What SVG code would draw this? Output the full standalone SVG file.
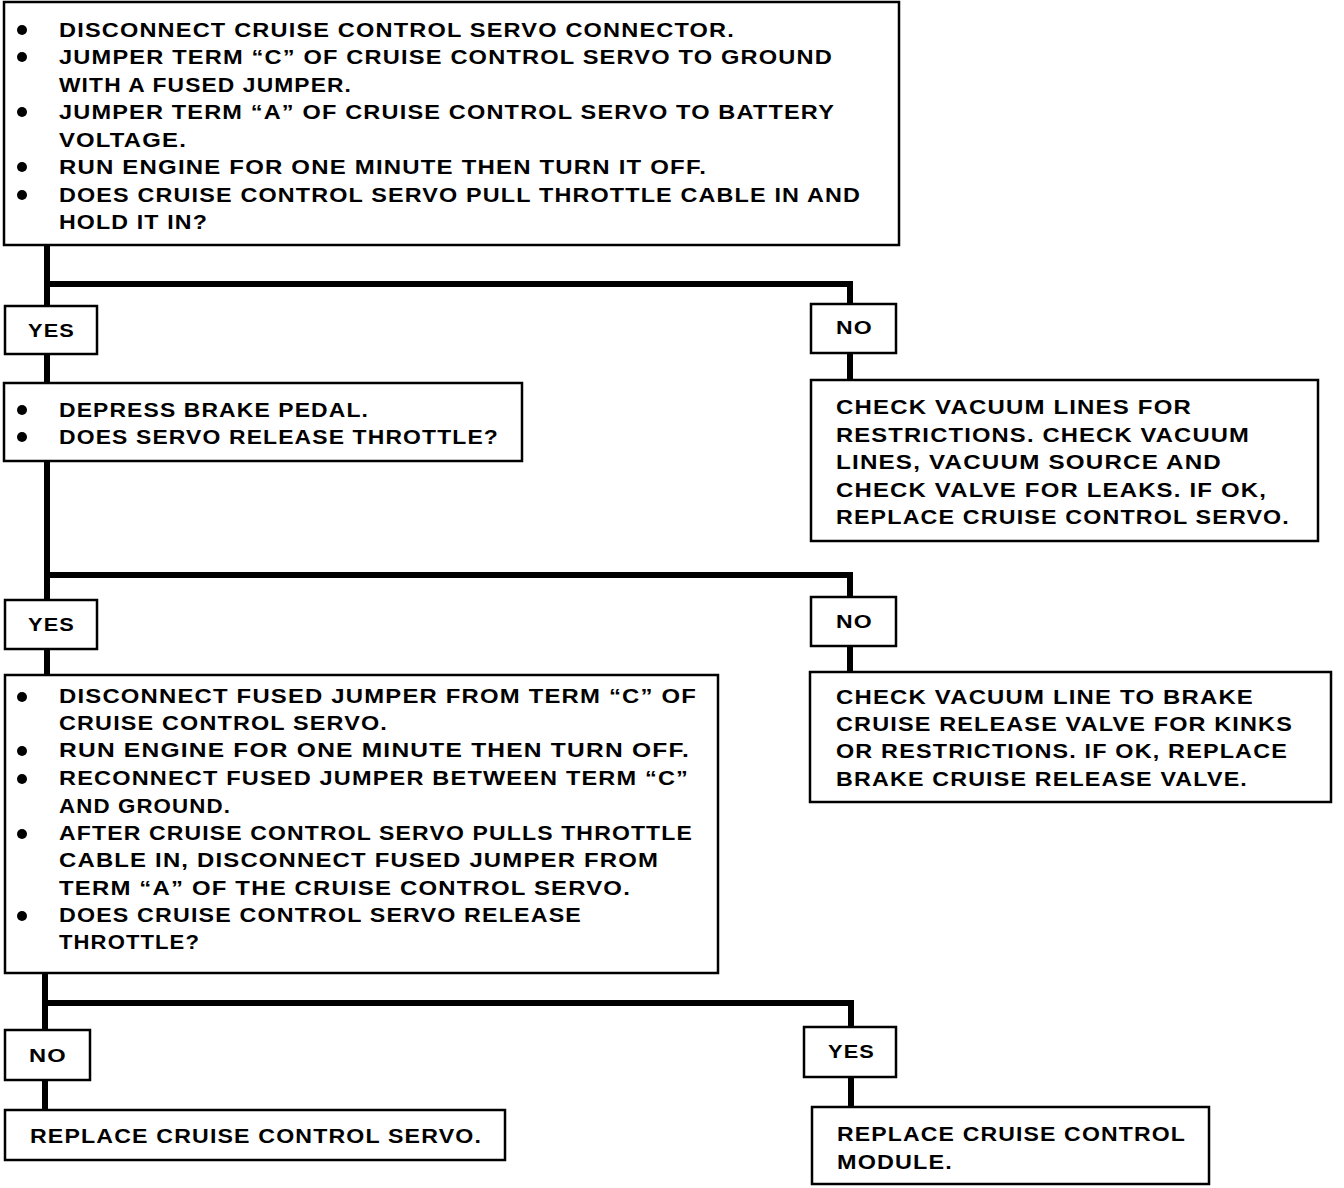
<svg xmlns="http://www.w3.org/2000/svg" width="1344" height="1188" viewBox="0 0 1344 1188">
<style>
.box{fill:#fff;stroke:#000;stroke-width:2.5}
.t{font-family:"Liberation Sans",Arial,sans-serif;font-weight:bold;font-size:20px;letter-spacing:1px;fill:#000}
.lb{font-family:"Liberation Sans",Arial,sans-serif;font-weight:bold;font-size:19px;letter-spacing:1px;fill:#000}
.c{fill:none;stroke:#000;stroke-width:6;stroke-linecap:butt;stroke-linejoin:miter}
.b{fill:#000}
</style>
<rect width="1344" height="1188" fill="#fff"/>
<g id="connectors">
<path class="c" d="M47,245 V306 M47,284 H850 V305"/>
<path class="c" d="M47,354 V383"/>
<path class="c" d="M850,353 V381"/>
<path class="c" d="M47,461 V600 M47,575 H850 V597"/>
<path class="c" d="M47,649 V675"/>
<path class="c" d="M850,646 V672"/>
<path class="c" d="M45,973 V1030 M45,1003 H851 V1027"/>
<path class="c" d="M45,1080 V1110"/>
<path class="c" d="M851,1077 V1107"/>
</g>
<g id="node-start">
<rect class="box" x="4" y="2" width="895" height="243"/>
<circle class="b" cx="22" cy="30" r="5"/>
<circle class="b" cx="22" cy="57" r="5"/>
<circle class="b" cx="22" cy="112" r="5"/>
<circle class="b" cx="22" cy="167" r="5"/>
<circle class="b" cx="22" cy="195" r="5"/>
<text class="t" x="59" y="37" textLength="676" lengthAdjust="spacingAndGlyphs">DISCONNECT CRUISE CONTROL SERVO CONNECTOR.</text>
<text class="t" x="59" y="64" textLength="774" lengthAdjust="spacingAndGlyphs">JUMPER TERM “C” OF CRUISE CONTROL SERVO TO GROUND</text>
<text class="t" x="59" y="92" textLength="293" lengthAdjust="spacingAndGlyphs">WITH A FUSED JUMPER.</text>
<text class="t" x="59" y="119" textLength="776" lengthAdjust="spacingAndGlyphs">JUMPER TERM “A” OF CRUISE CONTROL SERVO TO BATTERY</text>
<text class="t" x="59" y="147" textLength="128" lengthAdjust="spacingAndGlyphs">VOLTAGE.</text>
<text class="t" x="59" y="174" textLength="648" lengthAdjust="spacingAndGlyphs">RUN ENGINE FOR ONE MINUTE THEN TURN IT OFF.</text>
<text class="t" x="59" y="202" textLength="802" lengthAdjust="spacingAndGlyphs">DOES CRUISE CONTROL SERVO PULL THROTTLE CABLE IN AND</text>
<text class="t" x="59" y="229" textLength="149" lengthAdjust="spacingAndGlyphs">HOLD IT IN?</text>
</g>
<g id="label-yes-1">
<rect class="box" x="5" y="306" width="92" height="48"/>
<text class="lb" x="28" y="337" textLength="47" lengthAdjust="spacingAndGlyphs">YES</text>
</g>
<g id="label-no-1">
<rect class="box" x="811" y="304" width="85" height="49"/>
<text class="lb" x="836" y="334" textLength="37" lengthAdjust="spacingAndGlyphs">NO</text>
</g>
<g id="node-brake">
<rect class="box" x="4" y="383" width="518" height="78"/>
<circle class="b" cx="22" cy="410" r="5"/>
<circle class="b" cx="22" cy="437" r="5"/>
<text class="t" x="59" y="417" textLength="310" lengthAdjust="spacingAndGlyphs">DEPRESS BRAKE PEDAL.</text>
<text class="t" x="59" y="444" textLength="440" lengthAdjust="spacingAndGlyphs">DOES SERVO RELEASE THROTTLE?</text>
</g>
<g id="node-vacuum">
<rect class="box" x="811" y="380" width="507" height="161"/>
<text class="t" x="836" y="414" textLength="356" lengthAdjust="spacingAndGlyphs">CHECK VACUUM LINES FOR</text>
<text class="t" x="836" y="442" textLength="414" lengthAdjust="spacingAndGlyphs">RESTRICTIONS. CHECK VACUUM</text>
<text class="t" x="836" y="469" textLength="386" lengthAdjust="spacingAndGlyphs">LINES, VACUUM SOURCE AND</text>
<text class="t" x="836" y="497" textLength="431" lengthAdjust="spacingAndGlyphs">CHECK VALVE FOR LEAKS. IF OK,</text>
<text class="t" x="836" y="524" textLength="454" lengthAdjust="spacingAndGlyphs">REPLACE CRUISE CONTROL SERVO.</text>
</g>
<g id="label-yes-2">
<rect class="box" x="5" y="600" width="92" height="49"/>
<text class="lb" x="28" y="631" textLength="47" lengthAdjust="spacingAndGlyphs">YES</text>
</g>
<g id="label-no-2">
<rect class="box" x="811" y="597" width="85" height="49"/>
<text class="lb" x="836" y="628" textLength="37" lengthAdjust="spacingAndGlyphs">NO</text>
</g>
<g id="node-jumper">
<rect class="box" x="5" y="675" width="713" height="298"/>
<circle class="b" cx="22" cy="697" r="5"/>
<circle class="b" cx="22" cy="751" r="5"/>
<circle class="b" cx="22" cy="779" r="5"/>
<circle class="b" cx="22" cy="834" r="5"/>
<circle class="b" cx="22" cy="916" r="5"/>
<text class="t" x="59" y="703" textLength="638" lengthAdjust="spacingAndGlyphs">DISCONNECT FUSED JUMPER FROM TERM “C” OF</text>
<text class="t" x="59" y="730" textLength="329" lengthAdjust="spacingAndGlyphs">CRUISE CONTROL SERVO.</text>
<text class="t" x="59" y="757" textLength="631" lengthAdjust="spacingAndGlyphs">RUN ENGINE FOR ONE MINUTE THEN TURN OFF.</text>
<text class="t" x="59" y="785" textLength="630" lengthAdjust="spacingAndGlyphs">RECONNECT FUSED JUMPER BETWEEN TERM “C”</text>
<text class="t" x="59" y="813" textLength="172" lengthAdjust="spacingAndGlyphs">AND GROUND.</text>
<text class="t" x="59" y="840" textLength="634" lengthAdjust="spacingAndGlyphs">AFTER CRUISE CONTROL SERVO PULLS THROTTLE</text>
<text class="t" x="59" y="867" textLength="600" lengthAdjust="spacingAndGlyphs">CABLE IN, DISCONNECT FUSED JUMPER FROM</text>
<text class="t" x="59" y="895" textLength="572" lengthAdjust="spacingAndGlyphs">TERM “A” OF THE CRUISE CONTROL SERVO.</text>
<text class="t" x="59" y="922" textLength="523" lengthAdjust="spacingAndGlyphs">DOES CRUISE CONTROL SERVO RELEASE</text>
<text class="t" x="59" y="949" textLength="141" lengthAdjust="spacingAndGlyphs">THROTTLE?</text>
</g>
<g id="node-release-valve">
<rect class="box" x="810" y="672" width="521" height="130"/>
<text class="t" x="836" y="704" textLength="418" lengthAdjust="spacingAndGlyphs">CHECK VACUUM LINE TO BRAKE</text>
<text class="t" x="836" y="731" textLength="457" lengthAdjust="spacingAndGlyphs">CRUISE RELEASE VALVE FOR KINKS</text>
<text class="t" x="836" y="758" textLength="452" lengthAdjust="spacingAndGlyphs">OR RESTRICTIONS. IF OK, REPLACE</text>
<text class="t" x="836" y="786" textLength="412" lengthAdjust="spacingAndGlyphs">BRAKE CRUISE RELEASE VALVE.</text>
</g>
<g id="label-no-3">
<rect class="box" x="5" y="1030" width="85" height="50"/>
<text class="lb" x="29" y="1062" textLength="38" lengthAdjust="spacingAndGlyphs">NO</text>
</g>
<g id="label-yes-3">
<rect class="box" x="804" y="1027" width="92" height="50"/>
<text class="lb" x="828" y="1058" textLength="47" lengthAdjust="spacingAndGlyphs">YES</text>
</g>
<g id="node-replace-servo">
<rect class="box" x="5" y="1110" width="500" height="50"/>
<text class="t" x="30" y="1143" textLength="452" lengthAdjust="spacingAndGlyphs">REPLACE CRUISE CONTROL SERVO.</text>
</g>
<g id="node-replace-module">
<rect class="box" x="812" y="1107" width="397" height="77"/>
<text class="t" x="837" y="1141" textLength="349" lengthAdjust="spacingAndGlyphs">REPLACE CRUISE CONTROL</text>
<text class="t" x="837" y="1169" textLength="116" lengthAdjust="spacingAndGlyphs">MODULE.</text>
</g>
</svg>
